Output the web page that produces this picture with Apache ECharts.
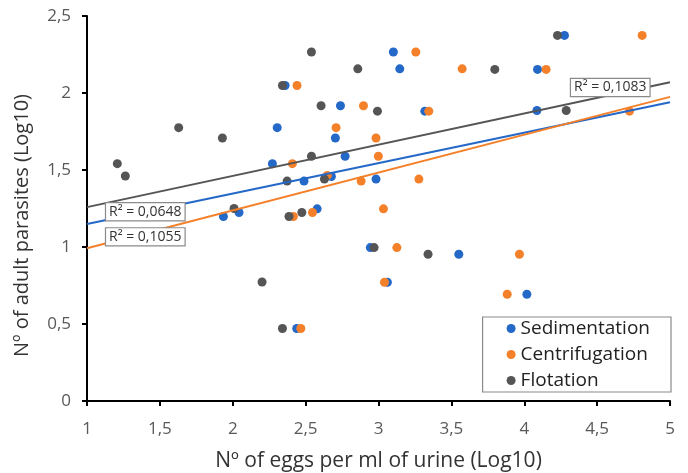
<!DOCTYPE html>
<html>
<head>
<meta charset="utf-8">
<script src="https://cdn.jsdelivr.net/npm/echarts@6/dist/echarts.min.js"></script>
<style>html,body{margin:0;padding:0;background:#fff}#c{width:688px;height:473px}</style>
</head>
<body>
<div id="c"></div>
<script>
// Sedimentation: [log10 eggs, log10 parasites]
const sedimentation = [
  [2.272,1.541],[2.305,1.775],[2.359,2.049],[2.739,1.917],[3.102,2.266],[3.146,2.157],
  [3.318,1.882],[2.704,1.708],[2.771,1.589],[2.489,1.428],[2.677,1.458],[2.983,1.441],
  [2.579,1.248],[1.936,1.198],[2.043,1.224],[2.944,0.996],[3.551,0.953],[3.061,0.771],
  [2.439,0.471],[4.018,0.693],[4.276,2.374],[4.091,2.153],[4.087,1.886]
];
const centrifugation = [
  [2.441,2.049],[3.256,2.266],[3.574,2.157],[2.897,1.917],[3.345,1.882],[2.709,1.775],
  [2.983,1.708],[2.999,1.589],[2.409,1.541],[2.649,1.465],[2.881,1.428],[3.277,1.441],
  [3.034,1.248],[2.416,1.198],[2.547,1.224],[3.126,0.996],[3.041,0.771],[2.467,0.471],
  [3.967,0.953],[3.883,0.693],[4.809,2.374],[4.150,2.153],[4.722,1.882]
];
const flotation = [
  [1.208,1.541],[1.263,1.461],[1.629,1.775],[1.929,1.708],[2.009,1.250],[2.201,0.773],
  [2.341,0.471],[2.540,2.266],[2.858,2.157],[2.341,2.049],[2.606,1.917],[2.993,1.882],
  [2.540,1.589],[2.373,1.428],[2.629,1.441],[2.386,1.198],[2.474,1.224],[2.970,0.996],
  [3.340,0.953],[4.228,2.374],[3.798,2.153],[4.288,1.886]
];
// Linear trendlines (endpoints)
const trendSedimentation = [[1,1.150],[5,1.940]];
const trendCentrifugation = [[1,0.992],[5,1.975]];
const trendFlotation = [[1,1.259],[5,2.070]];
// R² labels: [x, y, text]
const r2Sedimentation = [1.40, 1.229, 'R² = 0,0648'];
const r2Centrifugation = [1.40, 1.066, 'R² = 0,1055'];
const r2Flotation = [4.59, 2.036, 'R² = 0,1083'];

const seriesNames = ['Sedimentation','Centrifugation','Flotation'];
const xTitle = 'Nº of eggs per ml of urine (Log10)';
const yTitle = 'Nº of adult parasites (Log10)';

const colors = {Sedimentation:'#2468c8', Centrifugation:'#f5802a', Flotation:'#555555'};
const FONT = 'Open Sans';

function trend(name, data, r2){
  return {
    name: name + ' trend', type:'line', data:data, showSymbol:false, symbol:'none',
    lineStyle:{color:colors[name], width:2}, z:3, silent:true,
    markPoint:{
      symbol:'rect', symbolSize:0, silent:true,
      data:[{coord:[r2[0], r2[1]], value:r2[2]}],
      label:{show:true, formatter:r2[2], color:'#333', fontSize:14, fontFamily:FONT,
        backgroundColor:'#fff', borderColor:'#8a8a8a', borderWidth:1.2, padding:[2,3,1,3]}
    }
  };
}
function scatter(name, data){
  return {name:name, type:'scatter', data:data, symbolSize:9, z:2,
    itemStyle:{color:colors[name], opacity:1}};
}

const chart = echarts.init(document.getElementById('c'), null, {renderer:'canvas'});
chart.setOption({
  animation:false,
  textStyle:{fontFamily:FONT},
  grid:{left:87, right:18, top:16, bottom:72, containLabel:false, outerBoundsMode:'none'},
  xAxis:{
    type:'value', min:1, max:5, interval:0.5,
    name:xTitle, nameLocation:'middle', nameGap:50,
    nameTextStyle:{fontSize:21, color:'#333', fontFamily:FONT},
    axisLine:{show:true, onZero:false, lineStyle:{color:'#000', width:2}},
    axisTick:{show:true, length:5, lineStyle:{color:'#000', width:2}},
    axisLabel:{fontSize:17, color:'#595959', margin:20, fontFamily:FONT,
      formatter:v=>String(v).replace('.',',')},
    splitLine:{show:false}
  },
  yAxis:{
    type:'value', min:0, max:2.5, interval:0.5,
    name:'{t|' + yTitle + '}{s|}', nameLocation:'middle', nameGap:55, nameRotate:90,
    nameTextStyle:{fontSize:20, color:'#333', fontFamily:FONT,
      rich:{t:{fontSize:20, color:'#333', fontFamily:FONT}, s:{width:34}}},
    axisLine:{show:true, onZero:false, lineStyle:{color:'#000', width:2}},
    axisTick:{show:true, length:5, lineStyle:{color:'#000', width:2}},
    axisLabel:{fontSize:17, color:'#595959', margin:16, fontFamily:FONT,
      formatter:v=>String(v).replace('.',',')},
    splitLine:{show:false}
  },
  legend:{
    data:seriesNames, orient:'vertical', right:17, bottom:81,
    icon:'circle', itemWidth:9, itemHeight:9, itemGap:7,
    borderColor:'#8a8a8a', borderWidth:1.2, padding:[2,21,2,24],
    textStyle:{fontSize:19, color:'#222', fontFamily:FONT}
  },
  series:[
    scatter('Sedimentation', sedimentation),
    scatter('Centrifugation', centrifugation),
    scatter('Flotation', flotation),
    trend('Sedimentation', trendSedimentation, r2Sedimentation),
    trend('Centrifugation', trendCentrifugation, r2Centrifugation),
    trend('Flotation', trendFlotation, r2Flotation)
  ]
});
</script>
</body>
</html>
